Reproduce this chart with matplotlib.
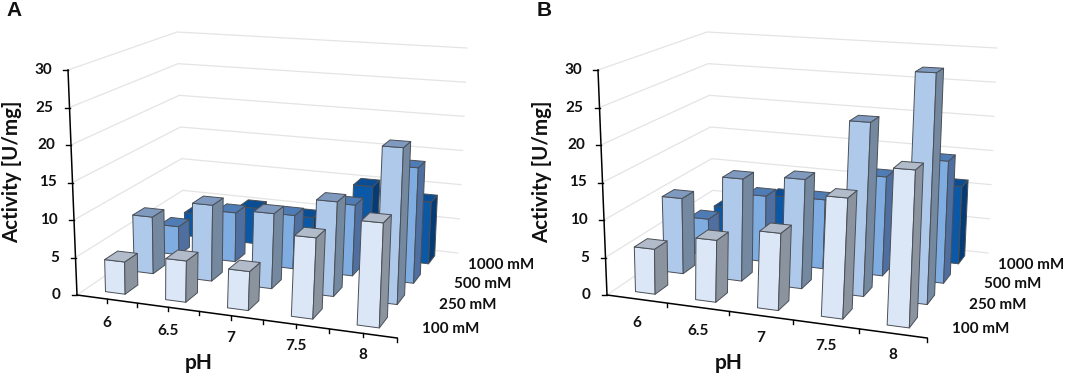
import numpy as np
import matplotlib
matplotlib.use("Agg")
import matplotlib.pyplot as plt
from matplotlib.patches import Polygon

ph_labels = ['6', '6.5', '7', '7.5', '8']
conc_labels = ['100 mM', '250 mM', '500 mM', '1000 mM']
y_ticks = [0, 5, 10, 15, 20, 25, 30]

# activity values, one list per concentration, pH 6 to 8
a_100 = [4.3, 5.4, 5.0, 10.2, 12.9]
a_250 = [7.9, 10.4, 10.1, 12.5, 20.3]
a_500 = [4.1, 7.0, 7.5, 9.8, 15.7]
a_1000 = [3.5, 5.3, 4.8, 10.2, 8.8]

b_100 = [6.0, 8.1, 9.9, 15.2, 19.4]
b_250 = [10.5, 14.0, 14.7, 23.0, 30.0]
b_500 = [5.2, 9.4, 9.7, 13.7, 16.6]
b_1000 = [4.5, 7.0, 7.5, 9.0, 11.0]

# front, top, side colours per concentration
bar_colors = [
    ('#dbe6f6', '#b1bbc9', '#8b939f'),
    ('#afc9ea', '#7f99bf', '#74889f'),
    ('#7fade2', '#4f7cb4', '#4e6f9f'),
    ('#0b58a6', '#0a4d92', '#063c75'),
]


def homography(corners):
    # maps the unit square (s, t) onto four pixel corners
    src = [(0, 0), (1, 0), (1, 1), (0, 1)]
    rows, rhs = [], []
    for (s, t), (px, py) in zip(src, corners):
        rows.append([s, t, 1, 0, 0, 0, -s * px, -t * px])
        rows.append([0, 0, 0, s, t, 1, -s * py, -t * py])
        rhs += [px, py]
    return np.append(np.linalg.solve(np.array(rows, float), np.array(rhs, float)), 1).reshape(3, 3)


FLOOR = homography([(77, 295), (397, 338), (458, 253), (184, 222)])
CEIL = homography([(68, 70), (406, 88), (467, 48), (177, 32)])


def project(u, v, z, dx):
    # u = pH slot 0..5, v = depth slot 0..4, z = activity 0..30
    s = np.array([u / 5, v / 4, 1])
    p0 = FLOOR @ s
    p1 = CEIL @ s
    p0 = p0[:2] / p0[2]
    p1 = p1[:2] / p1[2]
    p = p0 + (p1 - p0) * z / 30
    return p[0] + dx, p[1]


def draw_bar(ax, u, v, value, colors, dx):
    front, top, side = colors
    u0, u1 = u + 0.335, u + 0.665
    v0, v1 = v + 0.28, v + 0.72
    faces = [
        (front, [(u0, v0, 0), (u1, v0, 0), (u1, v0, value), (u0, v0, value)]),
        (side, [(u1, v0, 0), (u1, v1, 0), (u1, v1, value), (u1, v0, value)]),
        (top, [(u0, v0, value), (u1, v0, value), (u1, v1, value), (u0, v1, value)]),
    ]
    for color, pts in faces:
        xy = [project(a, b, c, dx) for a, b, c in pts]
        ax.add_patch(Polygon(xy, closed=True, facecolor=color,
                             edgecolor='#4a4f57', linewidth=0.7, joinstyle='round'))


def draw_panel(ax, series, letter, dx, minor_ticks):
    # gridlines on the two walls
    for z in y_ticks:
        pts = [project(0, 0, z, dx), project(0, 4, z, dx), project(5, 4, z, dx)]
        ax.plot([p[0] for p in pts], [p[1] for p in pts], color='#e4e4e4', lw=0.9, zorder=0)

    # back row first, so the nearer bars cover it
    for v in range(3, -1, -1):
        for u in range(5):
            draw_bar(ax, u, v, series[v][u], bar_colors[v], dx)

    # y axis
    x0, y0 = project(0, 0, 0, dx)
    x1, y1 = project(0, 0, 30, dx)
    ax.plot([x0, x1], [y0, y1], color='black', lw=1.1)
    for z in y_ticks:
        x, y = project(0, 0, z, dx)
        ax.plot([x - 5, x], [y, y], color='black', lw=1.0)
        ax.text(x - 16, y, str(z), ha='right', va='center', fontsize=11,
                fontweight='bold', family='Lato', color='#111111')

    # x axis
    x1, y1 = project(5, 0, 0, dx)
    ax.plot([x0, x1], [y0, y1], color='black', lw=1.1)
    step = 0.5 if minor_ticks else 1
    for u in np.arange(step, 5 + step, step):
        x, y = project(u, 0, 0, dx)
        ax.plot([x, x], [y, y + 4], color='black', lw=1.0)
    for u, label in enumerate(ph_labels):
        x, y = project(u + 0.5, 0, 0, dx)
        ax.text(x, y + 24 - 0.7 * u, label, ha='center', va='center', fontsize=11,
                fontweight='bold', family='Lato', color='#111111')

    # concentration labels along the right edge
    for v, label in enumerate(conc_labels):
        x, y = project(5, v + 0.5, 0, dx)
        ax.text(x + 16, y + 3, label, ha='left', va='center', fontsize=11,
                fontweight='bold', family='Lato', color='#111111')

    ax.text(199 + dx, 363, 'pH', ha='center', va='center', fontsize=15,
            fontweight='bold', family='Lato', color='#111111')
    ax.text(12 + dx, 172, 'Activity [U/mg]', ha='center', va='center', rotation=90,
            fontsize=14.8, fontweight='bold', family='Lato', color='#111111')
    ax.text(14 + dx, 11, letter, ha='center', va='center', fontsize=15,
            fontweight='bold', family='Liberation Sans', color='#111111')


fig = plt.figure(figsize=(10.65, 3.77), dpi=100)
ax = fig.add_axes([0, 0, 1, 1])
ax.set_xlim(0, 1065)
ax.set_ylim(377, 0)
ax.axis('off')

draw_panel(ax, [a_100, a_250, a_500, a_1000], 'A', 0, True)
draw_panel(ax, [b_100, b_250, b_500, b_1000], 'B', 530, False)

plt.savefig('out.png', dpi=100)
